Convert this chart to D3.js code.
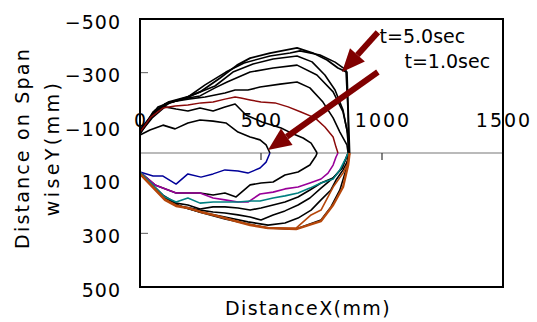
<!DOCTYPE html>
<html><head><meta charset="utf-8">
<script src="https://cdn.jsdelivr.net/npm/d3@7"></script>
<style>
html,body{margin:0;padding:0;background:#fff;}
svg{display:block;}
text{font-family:"DejaVu Sans",sans-serif;fill:#000;}
</style></head><body>
<script>
// ---- data (mm) ----
const xTickLabels = [0, 500, 1000, 1500];
const xTickMarks = [500, 1000];
const yTickLabels = [-500, -300, -100, 100, 300, 500];
const yTickMarks = [-300, 300];

// upper outlines (negative Y)
const up1 = [[0,-67],[41,-86],[95,-104],[145,-90],[198,-112],[248,-123],[302,-119],[355,-112],[405,-78],[455,-60],[496,-49],[521,-30],[537,0]];
const up2 = [[0,-75],[50,-131],[103,-172],[149,-164],[198,-157],[248,-168],[302,-157],[351,-172],[393,-183],[438,-142],[504,-116],[583,-93],[624,-75],[674,-56],[707,-37],[732,0]];
const up3 = [[0,-78],[45,-134],[95,-168],[145,-175],[198,-179],[252,-187],[302,-190],[351,-201],[393,-209],[417,-205],[455,-198],[500,-190],[558,-187],[612,-172],[665,-153],[723,-131],[764,-97],[798,-60],[810,-22],[818,0]];
const up4 = [[0,-86],[74,-172],[128,-190],[198,-201],[269,-209],[351,-224],[393,-235],[446,-235],[496,-246],[579,-257],[649,-265],[702,-243],[756,-190],[798,-131],[826,-78],[855,-30],[860,0]];
const up5 = [[0,-78],[62,-160],[116,-187],[198,-205],[248,-213],[310,-243],[360,-265],[455,-302],[550,-317],[649,-328],[731,-291],[798,-228],[839,-153],[860,-67],[864,0]];
const up6 = [[0,-75],[54,-153],[116,-190],[207,-213],[310,-250],[384,-302],[467,-332],[550,-351],[649,-362],[711,-340],[764,-291],[806,-235],[839,-160],[855,-86],[864,0]];
const up7 = [[0,-75],[62,-153],[124,-187],[198,-209],[269,-254],[355,-302],[430,-336],[537,-362],[620,-373],[661,-381],[744,-366],[806,-339],[851,-310],[860,-150],[862,0]];
const up8 = [[0,-71],[50,-142],[103,-183],[186,-205],[248,-228],[331,-280],[401,-328],[455,-354],[537,-373],[649,-392],[715,-373],[773,-347],[818,-317],[855,-302],[866,0]];

// lower outlines (positive Y)
const lo1 = [[0,71],[54,86],[95,86],[149,116],[198,78],[252,90],[302,78],[351,63],[405,67],[446,75],[496,56],[521,34],[537,0]];
const lo2 = [[0,71],[62,119],[149,149],[248,149],[302,157],[351,149],[397,164],[455,119],[500,112],[550,108],[599,82],[653,71],[702,45],[727,11],[732,0]];
const lo3 = [[0,71],[62,119],[149,149],[248,149],[302,168],[351,175],[405,183],[446,183],[496,153],[550,146],[599,134],[653,127],[702,112],[748,97],[777,75],[798,45],[810,15],[818,0]];
const lo4 = [[0,71],[103,164],[149,183],[198,168],[248,187],[302,183],[351,183],[405,183],[455,179],[496,179],[550,168],[599,160],[653,149],[702,131],[748,112],[798,97],[826,63],[847,26],[860,0]];
const lo5 = [[0,75],[95,157],[149,187],[198,194],[248,209],[302,201],[351,201],[405,205],[455,213],[500,205],[550,194],[599,183],[653,164],[702,138],[748,112],[798,93],[835,56],[860,0]];
const lo6 = [[0,78],[103,168],[165,198],[248,213],[302,220],[351,224],[405,231],[455,239],[500,250],[550,231],[599,216],[653,194],[702,168],[748,131],[798,93],[835,56],[860,0]];
const lo7 = [[0,78],[103,172],[149,194],[248,220],[351,239],[446,257],[529,269],[599,261],[653,243],[707,213],[748,175],[789,138],[810,101],[839,63],[860,26],[866,0]];
const lo8 = [[0,78],[103,172],[149,194],[252,222],[351,246],[446,265],[529,280],[645,284],[748,250],[789,201],[826,138],[851,63],[862,0]];
const lo9 = [[0,78],[103,172],[149,194],[252,220],[351,243],[446,265],[529,280],[645,280],[707,231],[748,213],[798,127],[839,75],[860,37],[866,0]];
const lo10 = [[0,78],[103,175],[149,198],[198,205],[252,220],[302,231],[351,243],[405,257],[455,269],[529,280],[645,284],[748,254],[798,194],[839,127],[860,45],[866,0]];

// annotations: arrow [from, to] in mm, and labels
const arrow50 = [[983,-451],[835,-302]];
const arrow10 = [[983,-302],[529,-11]];
const label50 = {text:"t=5.0sec", at:[990,-412]};
const label10 = {text:"t=1.0sec", at:[1093,-318]};

// series table built from the arrays
const series = [
  {d:up1,c:"#000",w:1.6},{d:up2,c:"#000",w:1.6},{d:up4,c:"#000",w:1.6},{d:up5,c:"#000",w:1.6},
  {d:up6,c:"#000",w:1.6},{d:up7,c:"#000",w:1.6},{d:up8,c:"#000",w:1.8},
  {d:lo2,c:"#000",w:1.6},{d:lo5,c:"#000",w:1.6},{d:lo6,c:"#000",w:1.6},{d:lo7,c:"#000",w:1.6},{d:lo8,c:"#000",w:1.6},
  {d:up3,c:"#8b0a0a",w:1.5},
  {d:lo1,c:"#000099",w:1.5},
  {d:lo3,c:"#990099",w:1.6},
  {d:lo4,c:"#008080",w:1.6},
  {d:lo9,c:"#b5470b",w:1.6},
  {d:lo10,c:"#b5470b",w:2.4}
];

// ---- drawing ----
const W=537,H=322;
const svg=d3.select("body").append("svg").attr("width",W).attr("height",H);
const x=d3.scaleLinear().domain([0,1500]).range([140,503]);
const y=d3.scaleLinear().domain([-500,500]).range([19,287]);

// x-axis line at y=0
svg.append("line").attr("x1",x(0)).attr("x2",x(1500)).attr("y1",y(0)).attr("y2",y(0))
  .attr("stroke","#777").attr("stroke-width",1.2);
svg.selectAll(".xt").data(xTickMarks).enter().append("line")
  .attr("x1",d=>x(d)).attr("x2",d=>x(d)).attr("y1",y(0)).attr("y2",y(0)+7)
  .attr("stroke","#333").attr("stroke-width",1.2);
svg.selectAll(".yt").data(yTickMarks).enter().append("line")
  .attr("x1",x(0)).attr("x2",x(0)+8).attr("y1",d=>y(d)).attr("y2",d=>y(d))
  .attr("stroke","#777").attr("stroke-width",1.2);

const line=d3.line().x(d=>x(d[0])).y(d=>y(d[1]));
svg.selectAll(".s").data(series).enter().append("path")
  .attr("d",d=>line(d.d)).attr("fill","none").attr("stroke",d=>d.c)
  .attr("stroke-width",d=>d.w).attr("stroke-linejoin","round");

// frame
svg.append("rect").attr("x",x(0)).attr("y",y(-500)).attr("width",x(1500)-x(0)).attr("height",y(500)-y(-500))
  .attr("fill","none").attr("stroke","#000").attr("stroke-width",2);

// tick labels
svg.selectAll(".xl").data(xTickLabels).enter().append("text")
  .attr("x",d=>x(d)+1).attr("y",y(0)-26).attr("text-anchor","middle")
  .style("font-size","19px").style("letter-spacing","2px").text(d=>d);
svg.selectAll(".yl").data(yTickLabels).enter().append("text")
  .attr("x",121).attr("y",d=>y(d)+9.5).attr("text-anchor","end")
  .style("font-size","19px").style("letter-spacing","1px").text(d=>d<0?"\u2212"+Math.abs(d):d);

// axis titles
svg.append("text").attr("x",308).attr("y",315).attr("text-anchor","middle")
  .style("font-size","19px").style("letter-spacing","1.4px").text("DistanceX(mm)");
svg.append("text").attr("transform","translate(29,148) rotate(-90)").attr("text-anchor","middle")
  .style("font-size","19px").style("letter-spacing","2.2px").text("Distance on Span");
svg.append("text").attr("transform","translate(59,148) rotate(-90)").attr("text-anchor","middle")
  .style("font-size","19px").style("letter-spacing","3.4px").text("wiseY(mm)");

// arrows
function arrow(a){
  const x1=x(a[0][0]),y1=y(a[0][1]),x2=x(a[1][0]),y2=y(a[1][1]);
  const ang=Math.atan2(y2-y1,x2-x1), L=23, hw=10;
  const bx=x2-L*Math.cos(ang), by=y2-L*Math.sin(ang);
  svg.append("line").attr("x1",x1).attr("y1",y1).attr("x2",bx).attr("y2",by)
    .attr("stroke","#800000").attr("stroke-width",6);
  const px=-Math.sin(ang),py=Math.cos(ang);
  svg.append("path").attr("d",`M${x2},${y2}L${bx+px*hw},${by+py*hw}L${bx-px*hw},${by-py*hw}Z`)
    .attr("fill","#800000");
}
arrow(arrow50); arrow(arrow10);
[label50,label10].forEach(l=>{
  svg.append("text").attr("x",x(l.at[0])).attr("y",y(l.at[1])).style("font-size","19px").text(l.text);
});
</script>
</body></html>
